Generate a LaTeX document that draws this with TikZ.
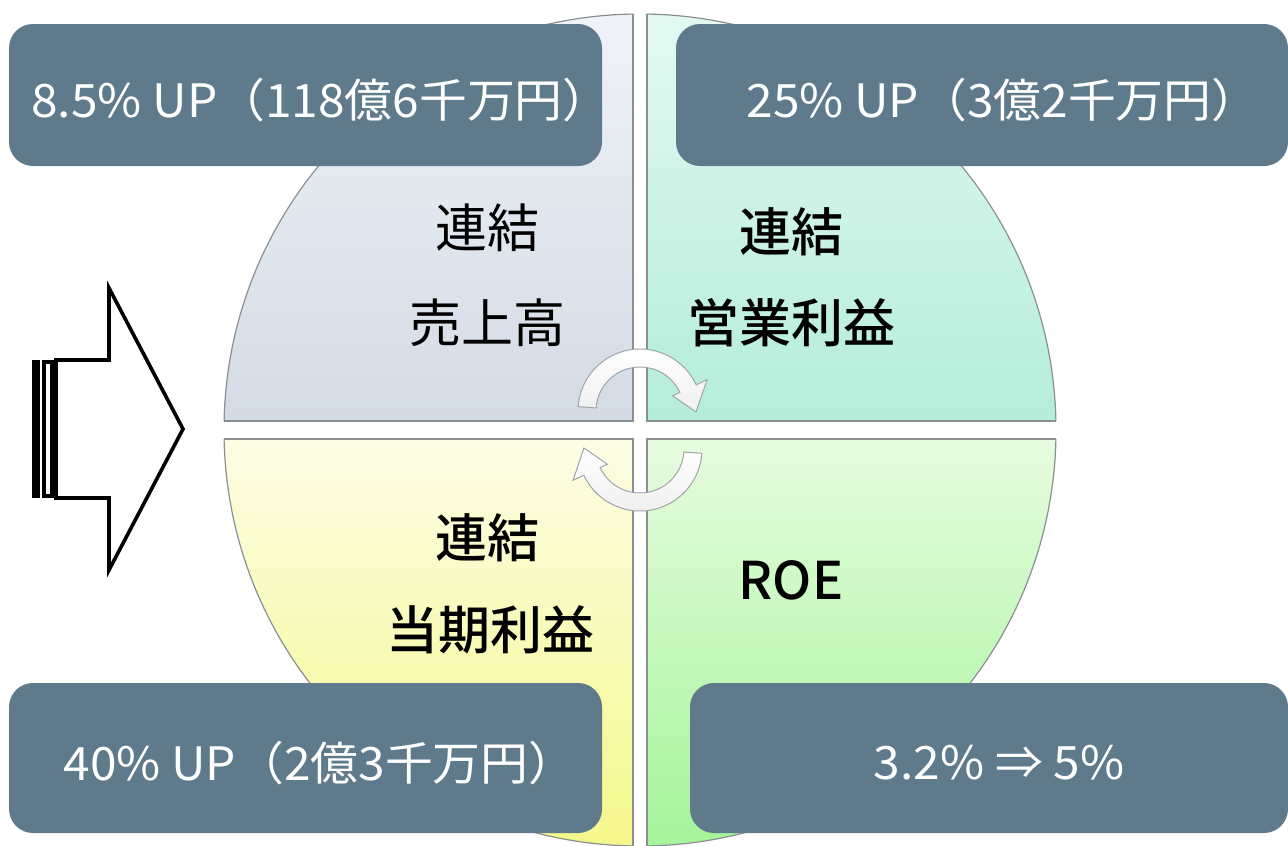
\documentclass[tikz,border=0pt]{standalone}
\usepackage{fontspec}
\newfontfamily\jp{Noto Sans CJK JP}
\newfontfamily\jpw[FakeStretch=1.04]{Noto Sans CJK JP}
\newfontfamily\jpm{Noto Sans CJK JP Medium}
\usetikzlibrary{shadings}
\definecolor{boxc}{RGB}{95,122,139}
\definecolor{tlA}{HTML}{F0F3F8}\definecolor{tlB}{HTML}{D3DBE5}
\definecolor{trA}{HTML}{E3F9F2}\definecolor{trB}{HTML}{B4EDDA}
\definecolor{blA}{HTML}{FDFDE6}\definecolor{blB}{HTML}{F4F88A}
\definecolor{brA}{HTML}{E6FCDF}\definecolor{brB}{HTML}{A5F49A}
\definecolor{edgec}{HTML}{8A8F94}
\newcommand\quadfill[6]{%
  \begin{scope}
    \clip (640,-430) circle[radius=416];
    \shade[top color=#5, bottom color=#6] (#1,-#2) rectangle (#3,-#4);
  \end{scope}}
\tikzset{
  infobox/.style={fill=boxc, rounded corners=24pt, inner sep=0pt},
  boxtext/.style={inner sep=0pt, text=white, font=\jpw\fontsize{46}{50}\selectfont},
  lab/.style={inner sep=0pt, text=black, font=\jp\fontsize{52}{56}\selectfont},
  labb/.style={lab, font=\jpm\fontsize{52}{56}\selectfont},
  qedge/.style={draw=edgec, line width=1.2pt},
  carrow/.style={draw=edgec!80, line width=1pt, top color=white, bottom color=gray!12},
  bigarrow/.style={draw=black, line width=3.6pt, line join=miter, fill=white},
}
\begin{document}
\begin{tikzpicture}[x=1pt,y=1pt]
\useasboundingbox (0,0) rectangle (1288,-846);
\fill[white] (0,0) rectangle (1288,-846);
% quadrants
\quadfill{224}{14}{633}{421}{tlA}{tlB}
\quadfill{647}{14}{1056}{421}{trA}{trB}
\quadfill{224}{439}{633}{846}{blA}{blB}
\quadfill{647}{439}{1056}{846}{brA}{brB}
\begin{scope}
  \clip (640,-430) circle[radius=416];
  \draw[qedge] (633,0) -- (633,-421) -- (200,-421);
  \draw[qedge] (647,0) -- (647,-421) -- (1100,-421);
  \draw[qedge] (633,-900) -- (633,-439) -- (200,-439);
  \draw[qedge] (647,-900) -- (647,-439) -- (1100,-439);
\end{scope}
\begin{scope}
  \clip (0,0) rectangle (633,-421) (647,0) rectangle (1288,-421)
        (0,-439) rectangle (633,-846) (647,-439) rectangle (1288,-846);
  \draw[qedge] (640,-430) circle[radius=416];
\end{scope}
% cycle arrows
\begin{scope}[shift={(640,-411)}]
  \draw[carrow] (176:62) arc[start angle=176, end angle=25, radius=62]
    -- (25:74) -- (-1:56) -- (25:36) -- (25:44)
    arc[start angle=25, end angle=176, radius=44] -- cycle;
\end{scope}
\begin{scope}[shift={(640,-449)}, rotate=180]
  \draw[carrow] (176:62) arc[start angle=176, end angle=25, radius=62]
    -- (25:74) -- (-1:56) -- (25:36) -- (25:44)
    arc[start angle=25, end angle=176, radius=44] -- cycle;
\end{scope}
% quadrant labels
\node[lab]  (tl1) at (487,-228) {連結};
\node[lab]  (tl2) at (487,-323) {売上高};
\node[labb] (tr1) at (791,-232) {連結};
\node[labb] (tr2) at (791,-323) {営業利益};
\node[labb] (bl1) at (487,-538) {連結};
\node[labb] (bl2) at (490,-630) {当期利益};
\node[labb] (br1) at (791,-580) {ROE};
% info boxes
\node[infobox, minimum width=593pt, minimum height=142pt] (b1) at (305.5,-95) {};
\node[infobox, minimum width=612pt, minimum height=142pt] (b2) at (982,-95) {};
\node[infobox, minimum width=593pt, minimum height=150pt] (b3) at (305.5,-758) {};
\node[infobox, minimum width=598pt, minimum height=150pt] (b4) at (989,-758) {};
\node[boxtext] (t1) at (321,-100) {8.5\% UP（118億6千万円）};
\node[boxtext] (t2) at (1003,-100) {25\% UP（3億2千万円）};
\node[boxtext] (t3) at (320,-763) {40\% UP（2億3千万円）};
\node[boxtext] (t4) at (999,-763) {3.2\% ⇒ 5\%};
% striped block arrow
\fill[black] (32,-360) rectangle (40,-498);
\draw[line width=3.6pt] (44,-361.8) rectangle (52,-496.2);
\draw[bigarrow] (56,-360) -- (109,-360) -- (109,-288) -- (183,-429)
  -- (109,-570) -- (109,-498) -- (56,-498) -- cycle;
\end{tikzpicture}
\end{document}
